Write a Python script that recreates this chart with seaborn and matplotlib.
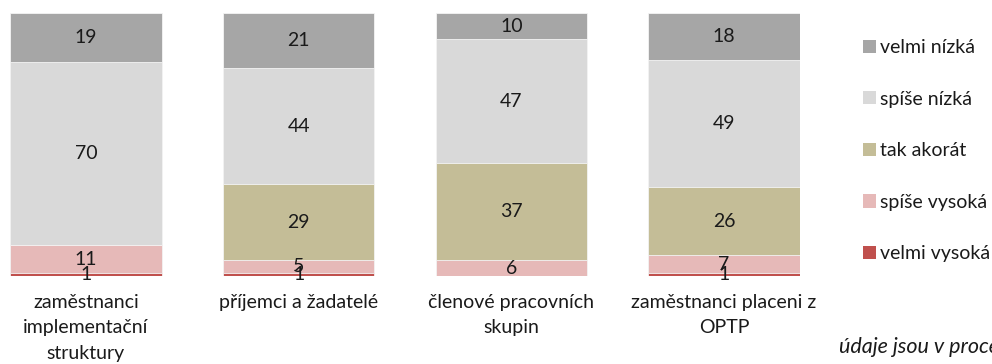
import numpy as np
import pandas as pd
import matplotlib
matplotlib.use("Agg")
import matplotlib.pyplot as plt
import seaborn as sns
from matplotlib.patches import Patch

# Groups of respondents (x axis)
groups = [
    "zaměstnanci\nimplementační\nstruktury",
    "příjemci a žadatelé",
    "členové pracovních\nskupin",
    "zaměstnanci placeni z\nOPTP",
]

# Answer categories, bottom to top of each stack
levels = ["velmi vysoká", "spíše vysoká", "tak akorát", "spíše nízká", "velmi nízká"]
colors = ["#C0504D", "#E6B9B8", "#C4BD97", "#D9D9D9", "#A6A6A6"]

# Answer counts in percent per group (bottom to top)
velmi_vysoka = [1, 1, 0, 1]
spise_vysoka = [11, 5, 6, 7]
tak_akorat = [0, 29, 37, 26]
spise_nizka = [70, 44, 47, 49]
velmi_nizka = [19, 21, 10, 18]

series = [velmi_vysoka, spise_vysoka, tak_akorat, spise_nizka, velmi_nizka]

sns.set_theme(style="white")
plt.rcParams["font.family"] = ["Lato", "DejaVu Sans"]
FS = 14
TXT = "#1A1A1A"

values = np.array(series, dtype=float)
totals = values.sum(axis=0)
shares = values / totals * 100          # 100 % stacked
tops = np.cumsum(shares, axis=0)
bottoms = tops - shares

fig = plt.figure(figsize=(9.92, 3.64), dpi=100)
ax = fig.add_axes([10 / 992, 1 - 276 / 364, 790 / 992, 263 / 364])

# Draw the stacks from the top layer down so every segment shows its own colour
for i in reversed(range(len(levels))):
    df = pd.DataFrame({"group": groups, "top": tops[i]})
    sns.barplot(data=df, x="group", y="top", color=colors[i], saturation=1,
                width=0.713, edgecolor="#F4F4F4", linewidth=0.6, ax=ax,
                order=groups)

# Value labels centred in each segment
for i in range(len(levels)):
    for j in range(len(groups)):
        if values[i, j] > 0:
            ax.text(j, bottoms[i, j] + shares[i, j] / 2, f"{int(values[i, j])}",
                    ha="center", va="center", fontsize=FS, color=TXT)

ax.set_xlim(-0.357, 3.357)
ax.set_ylim(0, 100)
ax.set_xlabel("")
ax.set_ylabel("")
ax.set_yticks([])
ax.tick_params(axis="x", length=0, pad=13, labelsize=FS, labelcolor=TXT)
ax.set_xticklabels(groups, linespacing=1.6)
for s in ax.spines.values():
    s.set_visible(False)

# Legend at the right, top entry first
handles = [Patch(facecolor=colors[i], edgecolor="none") for i in reversed(range(len(levels)))]
labels = list(reversed(levels))
fig.legend(handles, labels, loc="upper left", bbox_to_anchor=(863 / 992, 1 - 39 / 364),
           frameon=False, fontsize=FS, handlelength=0.67, handleheight=0.67,
           handletextpad=0.2, labelspacing=1.78, borderaxespad=0, borderpad=0,
           labelcolor=TXT)

fig.text(839 / 992, 1 - 347 / 364, "údaje jsou v procentech", style="italic",
         fontsize=15.5, color=TXT, va="center", ha="left")

fig.savefig("out.png", dpi=100)
